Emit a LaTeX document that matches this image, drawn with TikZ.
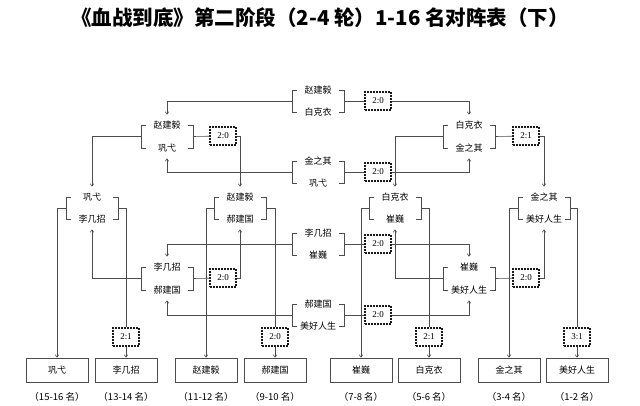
\documentclass[tikz,border=0pt]{standalone}
\usepackage{fontspec}
\setmainfont{Liberation Serif}
\newfontfamily\cjk{Noto Sans CJK SC}
\usetikzlibrary{arrows.meta,calc}

% one match: two names between brackets, bracket mids as (#1l) and (#1r)
\newcommand{\duel}[6]{%
  \node[player] (#1t) at (#2,#3) {#5};
  \node[player] (#1b) at (#2,#4) {#6};
  \draw[bracket] (#2-21,#3) -- (#2-26,#3) -- (#2-26,#4) -- (#2-21,#4);
  \draw[bracket] (#2+21,#3) -- (#2+26,#3) -- (#2+26,#4) -- (#2+21,#4);
  \coordinate (#1l) at (#2-26,{(#3+#4)/2});
  \coordinate (#1r) at (#2+26,{(#3+#4)/2});
}

\begin{document}
\begin{tikzpicture}[x=1pt, y=-1pt, line width=0.6pt,
    >={Straight Barb[length=2.5pt,width=3.5pt]},
    title/.style={font=\cjk\bfseries\fontsize{20.5}{22}\selectfont},
    player/.style={font=\cjk\fontsize{9}{10}\selectfont, minimum height=20pt, inner sep=0pt},
    bracket/.style={draw=black!70},
    link/.style={draw=black!70},
    score/.style={draw=black!90, line width=1.1pt, dash pattern=on 1.8pt off 1.2pt,
      minimum width=26pt, minimum height=18pt, inner sep=0pt, font=\fontsize{9}{10}\selectfont},
    final/.style={draw=black!70, minimum width=62pt, minimum height=24pt, inner sep=0pt,
      font=\cjk\fontsize{9}{10}\selectfont},
    rank/.style={font=\cjk\fontsize{9.5}{11}\selectfont}]
    \useasboundingbox (0,0) rectangle (640,406);

    \node[title] (title) at (320,18) {《血战到底》第二阶段（2-4 轮）1-16 名对阵表（下）};

    % round 2
    \duel{a}{318}{90}{112}{赵建毅}{白克衣}
    \duel{b}{318}{161}{183}{金之其}{巩弋}
    \duel{c}{318}{233}{255}{李几招}{崔巍}
    \duel{d}{318}{304}{326}{郝建国}{美好人生}
    \node[score] (res-a) at (378,101) {2:0};
    \node[score] (res-b) at (378,172) {2:0};
    \node[score] (res-c) at (378,244) {2:0};
    \node[score] (res-d) at (378,315) {2:0};

    % round 3
    \duel{e}{167}{125}{148}{赵建毅}{巩弋}
    \duel{f}{469}{125}{148}{白克衣}{金之其}
    \duel{g}{167}{267}{290}{李几招}{郝建国}
    \duel{h}{469}{267}{290}{崔巍}{美好人生}
    \node[score] (res-e) at (223,136) {2:0};
    \node[score] (res-f) at (526,136) {2:1};
    \node[score] (res-g) at (223,278) {2:0};
    \node[score] (res-h) at (526,278) {2:0};

    % round 4
    \duel{p}{92}{197}{219}{巩弋}{李几招}
    \duel{q}{240}{197}{219}{赵建毅}{郝建国}
    \duel{r}{395}{197}{219}{白克衣}{崔巍}
    \duel{s}{544}{197}{219}{金之其}{美好人生}
    \node[score] (res-p) at (126,337) {2:1};
    \node[score] (res-q) at (275,337) {2:0};
    \node[score] (res-r) at (429,337) {2:1};
    \node[score] (res-s) at (577,337) {3:1};

    % places
    \foreach \n/\x/\who/\pl in {1/57/巩弋/15-16, 2/126/李几招/13-14, 3/206/赵建毅/11-12,
        4/275/郝建国/9-10, 5/361/崔巍/7-8, 6/429/白克衣/5-6, 7/509/金之其/3-4, 8/577/美好人生/1-2} {
      \node[final] (place\n) at (\x,370) {\who};
      \node[rank] (rk\n) at (\x,397) {（\pl{} 名）};
    }

    % round 2 -> round 3
    \draw[link,->] (al) -| (et.north);
    \draw[link] (ar) -- (res-a);
    \draw[link,->] (res-a) -| (ft.north);
    \draw[link,->] (bl) -| (eb.south);
    \draw[link] (br) -- (res-b);
    \draw[link,->] (res-b) -| (fb.south);
    \draw[link,->] (cl) -| (gt.north);
    \draw[link] (cr) -- (res-c);
    \draw[link,->] (res-c) -| (ht.north);
    \draw[link,->] (dl) -| (gb.south);
    \draw[link] (dr) -- (res-d);
    \draw[link,->] (res-d) -| (hb.south);

    % round 3 -> round 4
    \draw[link,->] (el) -| (pt.north);
    \draw[link] (er) -- (res-e);
    \draw[link,->] (res-e) -| (qt.north);
    \draw[link,->] (fl) -| (rt.north);
    \draw[link] (fr) -- (res-f);
    \draw[link,->] (res-f) -| (st.north);
    \draw[link,->] (gl) -| (pb.south);
    \draw[link] (gr) -- (res-g);
    \draw[link,->] (res-g) -| (qb.south);
    \draw[link,->] (hl) -| (rb.south);
    \draw[link] (hr) -- (res-h);
    \draw[link,->] (res-h) -| (sb.south);

    % round 4 -> places
    \draw[link,->] (pl) -| (place1.north);
    \draw[link] (pr) -| (res-p.north);
    \draw[link,->] (res-p) -- (place2);
    \draw[link,->] (ql) -| (place3.north);
    \draw[link] (qr) -| (res-q.north);
    \draw[link,->] (res-q) -- (place4);
    \draw[link,->] (rl) -| (place5.north);
    \draw[link] (rr) -| (res-r.north);
    \draw[link,->] (res-r) -- (place6);
    \draw[link,->] (sl) -| (place7.north);
    \draw[link] (sr) -| (res-s.north);
    \draw[link,->] (res-s) -- (place8);
\end{tikzpicture}
\end{document}
